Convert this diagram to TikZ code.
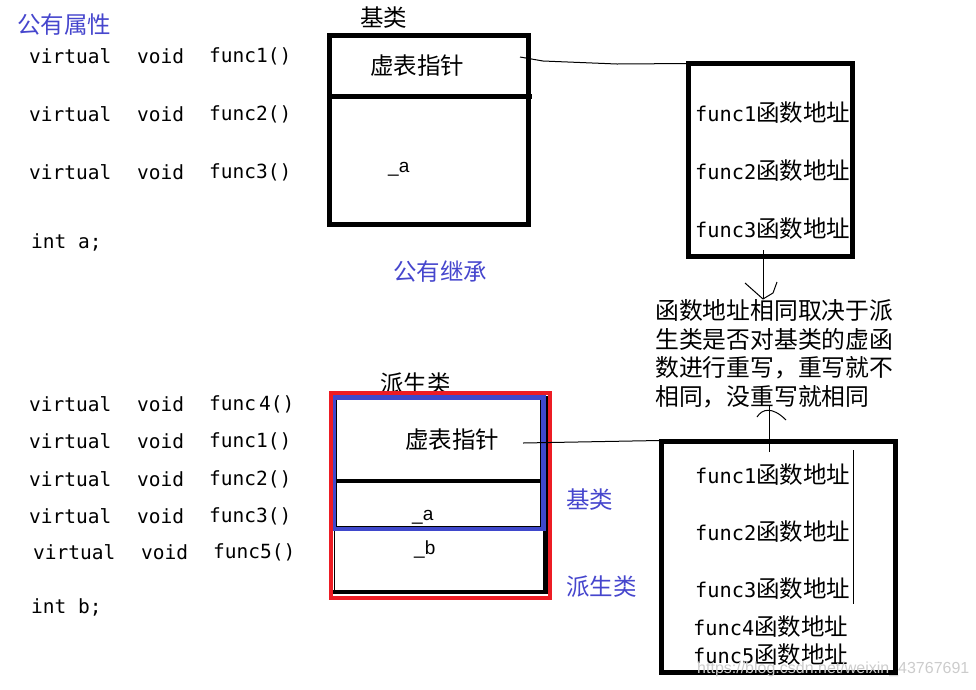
\documentclass[tikz,border=0pt]{standalone}
\usepackage{fontspec}
\setmainfont{Noto Sans CJK SC}
\newfontfamily\cjk{Noto Sans CJK SC}
\newfontfamily\monof{DejaVu Sans Mono}
\newfontfamily\arialf{Liberation Sans}
\definecolor{txtblue}{RGB}{70,70,205}
\definecolor{boxblue}{RGB}{63,72,204}
\definecolor{boxred}{RGB}{237,28,36}
\newcommand\vtt[1]{{\monof\fontsize{20.3}{24}\selectfont func#1}函数地址}
\tikzset{
  cn/.style={font=\cjk\fontsize{23.5}{28}\selectfont, inner sep=0pt, anchor=west},
  note/.style={font=\cjk\fontsize{23.8}{29}\selectfont, inner sep=0pt, anchor=west},
  bluetxt/.style={cn, text=txtblue},
  code/.style={font=\monof\fontsize{19.5}{24}\selectfont, inner sep=0pt, anchor=west},
  vt/.style={font=\cjk\fontsize{23.5}{28}\selectfont, inner sep=0pt, anchor=west},
  var/.style={font=\arialf\fontsize{19}{22}\selectfont, inner sep=0pt, anchor=base west},
  box/.style={draw, line width=5pt, inner sep=0pt},
  pen/.style={line width=1pt},
}
\begin{document}
\begin{tikzpicture}[x=1pt,y=-1pt]
\useasboundingbox (0,0) rectangle (976,689);
% ---------- base class code ----------
\node[bluetxt] (pubattr) at (17,25) {公有属性};
\foreach \y/\f [count=\i] in {56/func1(),114/func2(),172/func3()}{
  \node[code] (bv\i) at (29,\y) {virtual};
  \node[code] (bt\i) at (137,\y) {void};
  \node[code] (bf\i) at (209,\y) {\f};
}
\node[code] (inta) at (31,242) {int a;};
% ---------- base class object ----------
\node[cn] (baselbl) at (360,18) {基类};
\node[box, minimum width=199pt, minimum height=189pt] (base) at (429,130) {};
\draw[line width=5pt] (327,96) -- (532,96);
\node[cn] (ptr1) at (370,66) {虚表指针};
\node[var] (a1) at (388,172) {\_a};
% ---------- vtable 1 ----------
\node[box, minimum width=164pt, minimum height=193pt] (vt1) at (770.5,160) {};
\node[vt] (e11) at (695,113) {\vtt{1}};
\node[vt] (e12) at (695,171) {\vtt{2}};
\node[vt] (e13) at (695,229) {\vtt{3}};
\coordinate (p1) at (520,57);
\draw[pen] (p1) -- (543,61) -- (617,64) -- ([xshift=4pt,yshift=-2.5pt]vt1.north west);
% down arrow
\coordinate (d1) at (763,250);
\coordinate (d2) at (763,299);
\draw[pen] (d1) -- (d2);
\draw[pen] (745,283) -- (d2);
\draw[pen] (777,282) -- (773,293) -- (d2);
\node[bluetxt] (inherit) at (393,272) {公有继承};
% ---------- note ----------
\node[note] (n1) at (655,310) {函数地址相同取决于派};
\node[note] (n2) at (655,339) {生类是否对基类的虚函};
\node[note] (n3) at (655,368) {数进行重写，重写就不};
\node[note] (n4) at (655,397) {相同，没重写就相同};
% ---------- derived class code ----------
\foreach \y/\f [count=\i] in {404/func\kern3pt 4(),441/func1(),479/func2(),516/func3()}{
  \node[code] (dv\i) at (29,\y) {virtual};
  \node[code] (dt\i) at (137,\y) {void};
  \node[code] (df\i) at (209,\y) {\f};
}
\node[code] (dv5) at (33,552) {virtual};
\node[code] (dt5) at (141,552) {void};
\node[code] (df5) at (213,552) {func5()};
\node[code] (intb) at (31,607) {int b;};
% ---------- derived object ----------
\node[cn] (derlbl) at (380,384) {派生类};
\fill[white] (331,393) rectangle (550,598);
\draw[line width=5pt] (545.5,396) -- (545.5,594);
\draw[line width=4pt] (333,592) -- (548,592);
\draw[line width=1.2pt] (334.5,528) -- (334.5,592);
\draw[line width=4.5pt] (336,481) -- (541,481);
\draw[line width=1pt] (336.5,399.5) rectangle (540.5,526.5);
\draw[boxblue, line width=4.5pt] (334,397.5) rectangle (543.5,529);
\draw[boxred, line width=4pt] (331.3,393) rectangle (550.3,598);
\node[cn] (ptr2) at (405,440) {虚表指针};
\node[var] (a2) at (412,520) {\_a};
\node[var] (b2) at (414,554) {\_b};
\node[bluetxt] (baseb) at (566,500) {基类};
\node[bluetxt] (derb) at (566,587) {派生类};
% ---------- vtable 2 ----------
\node[box, minimum width=234pt, minimum height=231pt] (vt2) at (778.5,557) {};
\node[vt] (e21) at (695,475) {\vtt{1}};
\node[vt] (e22) at (695,532) {\vtt{2}};
\node[vt] (e23) at (695,589) {\vtt{3}};
\node[vt] (e24) at (693,627) {\vtt{4}};
\node[vt] (e25) at (693,655) {\vtt{5}};
\draw[pen] (853,450) -- (853,604);
\coordinate (p2) at (523,443);
\draw[pen] (p2) -- ([yshift=-1.5pt]vt2.north west);
% up arrow
\coordinate (u1) at (769,452);
\coordinate (u2) at (769,405);
\draw[pen] (u1) -- (u2);
\draw[pen] (757,417) .. controls (762,409) and (772,406) .. (786,420);
% watermark
\node[font=\arialf\fontsize{16}{18}\selectfont, text=black!20, inner sep=0pt, anchor=west] (wm) at (697,669) {https://blog.csdn.net/weixin\_43767691};
\end{tikzpicture}
\end{document}
